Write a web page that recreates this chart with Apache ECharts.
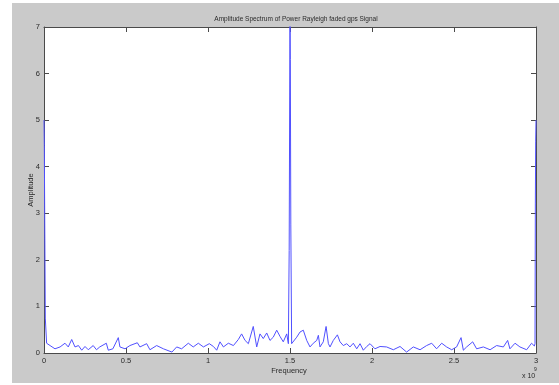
<!DOCTYPE html>
<html>
<head>
<meta charset="utf-8">
<script src="https://cdn.jsdelivr.net/npm/echarts@6/dist/echarts.min.js"></script>
<style>html,body{margin:0;padding:0;background:#fff}#c{width:559px;height:385px}</style>
</head>
<body>
<div id="c"></div>
<script>
const titleText = 'Amplitude Spectrum of Power Rayleigh faded gps Signal';
const xName = 'Frequency';
const yName = 'Amplitude';
const xTicks = [0, 0.5, 1, 1.5, 2, 2.5, 3];
const yTicks = [0, 1, 2, 3, 4, 5, 6, 7];
// frequency (x 10^9)
const freq = [0,0.002,0.004,0.008,0.016,0.037,0.067,0.098,0.128,0.148,0.169,0.189,0.21,0.23,0.25,0.27,0.30,0.32,0.34,0.38,0.392,0.42,0.453,0.463,0.494,0.524,0.569,0.585,0.626,0.646,0.687,0.728,0.78,0.809,0.839,0.88,0.91,0.941,0.972,1.008,1.033,1.053,1.073,1.094,1.124,1.155,1.185,1.205,1.226,1.246,1.276,1.297,1.317,1.337,1.358,1.378,1.398,1.419,1.44,1.459,1.48,1.49,1.495,1.5,1.502,1.505,1.51,1.52,1.541,1.561,1.581,1.602,1.622,1.642,1.663,1.673,1.683,1.703,1.72,1.734,1.744,1.764,1.789,1.805,1.825,1.846,1.866,1.886,1.907,1.927,1.947,1.968,1.988,2.018,2.049,2.089,2.13,2.171,2.211,2.252,2.293,2.333,2.364,2.394,2.425,2.455,2.486,2.516,2.543,2.557,2.577,2.614,2.638,2.679,2.72,2.76,2.801,2.827,2.841,2.872,2.902,2.943,2.973,2.99,2.994,2.996,2.998,3.0];
const amplitude = [5.0,4.45,3.2,0.75,0.21,0.16,0.09,0.13,0.21,0.13,0.29,0.13,0.16,0.06,0.14,0.07,0.16,0.07,0.13,0.21,0.06,0.09,0.33,0.13,0.09,0.16,0.22,0.13,0.2,0.07,0.16,0.09,0.02,0.13,0.09,0.21,0.13,0.21,0.13,0.2,0.14,0.06,0.24,0.13,0.21,0.16,0.29,0.41,0.27,0.2,0.57,0.13,0.41,0.31,0.43,0.27,0.34,0.49,0.35,0.24,0.41,0.2,2.2,7.5,6.3,2.75,0.2,0.24,0.34,0.45,0.49,0.27,0.13,0.21,0.27,0.38,0.13,0.24,0.57,0.2,0.13,0.27,0.39,0.24,0.16,0.2,0.13,0.21,0.09,0.2,0.06,0.14,0.2,0.09,0.14,0.13,0.07,0.14,0.02,0.13,0.07,0.16,0.21,0.09,0.21,0.13,0.07,0.13,0.33,0.06,0.13,0.24,0.09,0.13,0.07,0.16,0.13,0.27,0.09,0.21,0.13,0.07,0.21,0.15,0.2,3.2,4.55,5.0];

const chart = echarts.init(document.getElementById('c'), null, {renderer: 'canvas'});
const font = 'Liberation Sans Narrow, Liberation Sans, Arial, sans-serif';
const axisCol = '#4a4a4a';
const txtCol = '#2a2a2a';
const pairs = freq.map((f, i) => [f, amplitude[i]]);
const grid = {left: 44, right: 23, top: 27, bottom: 32, outerBoundsMode: 'none', containLabel: false};
const baseX = {
  type: 'value', min: xTicks[0], max: xTicks[xTicks.length - 1], interval: 0.5,
  splitLine: {show: false},
  axisLine: {show: true, onZero: false, lineStyle: {color: axisCol, width: 1}},
  axisTick: {show: true, inside: true, length: 5, lineStyle: {color: axisCol}}
};
const baseY = {
  type: 'value', min: yTicks[0], max: yTicks[yTicks.length - 1], interval: 1,
  splitLine: {show: false},
  axisLine: {show: true, onZero: false, lineStyle: {color: axisCol, width: 1}},
  axisTick: {show: true, inside: true, length: 5, lineStyle: {color: axisCol}}
};
chart.setOption({
  backgroundColor: '#ffffff',
  animation: false,
  title: {
    text: titleText, left: 291, top: 11, textAlign: 'center',
    textStyle: {fontFamily: font, fontSize: 6.5, fontWeight: 'normal', color: txtCol}
  },
  grid: grid,
  xAxis: [
    Object.assign({}, baseX, {position: 'bottom',
      axisLabel: {show: true, margin: 4, fontFamily: font, fontSize: 7.5, color: txtCol}}),
    Object.assign({}, baseX, {position: 'top', axisLabel: {show: false}})
  ],
  yAxis: [
    Object.assign({}, baseY, {position: 'left',
      axisLabel: {show: true, margin: 4, fontFamily: font, fontSize: 7.5, color: txtCol}}),
    Object.assign({}, baseY, {position: 'right', axisLabel: {show: false}})
  ],
  graphic: [
    {type: 'rect', z: -10, shape: {x: 12, y: 3, width: 547, height: 380}, style: {fill: '#cacaca'}},
    {type: 'rect', z: -9, shape: {x: 44, y: 27, width: 492, height: 326}, style: {fill: '#ffffff'}},
    {type: 'text', x: 289, y: 371, style: {text: xName, fontFamily: font, fontSize: 7.5, fill: txtCol, textAlign: 'center', textVerticalAlign: 'middle'}},
    {type: 'text', x: 31, y: 190, rotation: Math.PI / 2, style: {text: yName, fontFamily: font, fontSize: 7.5, fill: txtCol, textAlign: 'center', textVerticalAlign: 'middle'}},
    {type: 'text', x: 522, y: 376, style: {text: 'x 10', fontFamily: font, fontSize: 7, fill: txtCol, textVerticalAlign: 'middle'}},
    {type: 'text', x: 534, y: 370, style: {text: '9', fontFamily: font, fontSize: 5, fill: txtCol, textVerticalAlign: 'middle'}}
  ],
  series: [{
    type: 'line', data: pairs, showSymbol: false, clip: true,
    lineStyle: {color: '#5050ff', width: 1}, z: 5
  }]
});
</script>
</body>
</html>
